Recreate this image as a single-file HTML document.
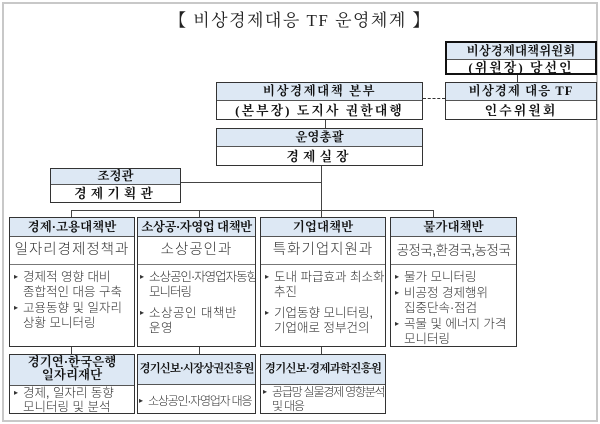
<!DOCTYPE html>
<html><head><meta charset="utf-8"><style>
body{margin:0;width:600px;height:424px;background:#fff;position:relative;overflow:hidden;font-family:"Liberation Serif","Noto Serif CJK KR",serif;}
.a{position:absolute;box-sizing:border-box;}
.box{position:absolute;box-sizing:border-box;border:1.5px solid #333;background:#fff;overflow:hidden;}
.h{background:#dde8f4;border-bottom:1px solid #555;text-align:center;font-weight:bold;font-size:12.5px;color:#111;white-space:nowrap;}
.s{text-align:center;font-size:13px;font-weight:bold;color:#111;letter-spacing:2px;white-space:nowrap;}
.sub{text-align:center;font-size:14.5px;color:#333;border-bottom:1px solid #777;font-family:"Liberation Sans","Noto Sans CJK KR",sans-serif;font-weight:300;white-space:nowrap;letter-spacing:1px;}
.l{font-family:"Liberation Sans","Noto Sans CJK KR",sans-serif;font-size:12.5px;color:#333;line-height:15px;padding:4px 0 0 4px;font-weight:300;white-space:nowrap;}
.l div{padding-left:9px;text-indent:-9px;}
.l div:before{content:"▸";font-size:8px;display:inline-block;width:9px;text-indent:0;vertical-align:2px;}
.ln{position:absolute;background:#444;}
</style></head><body>
<div class="a" style="left:2px;top:2px;width:596px;height:420px;border:2px solid #c8c8c8;"></div>
<div class="a" style="left:0;top:6px;width:600px;text-align:center;font-size:17px;color:#222;letter-spacing:1.5px;"><b>【</b> 비상경제대응 TF 운영체계 <b>】</b></div>

<div class="box" style="left:445px;top:41px;width:152px;height:34px;border:2px solid #111;">
<div class="h" style="height:16px;line-height:16px;">비상경제대책위원회</div>
<div class="s" style="line-height:16px;">(위원장) 당선인</div></div>
<div class="ln" style="left:517px;top:75px;width:1px;height:8px;"></div>
<div class="box" style="left:445px;top:82px;width:152px;height:38px;">
<div class="h" style="height:17px;line-height:17px;letter-spacing:1px;">비상경제 대응 TF</div>
<div class="s" style="line-height:19px;">인수위원회</div></div>

<div class="box" style="left:216px;top:82px;width:207px;height:38px;">
<div class="h" style="height:17px;line-height:17px;letter-spacing:1.5px;">비상경제대책 본부</div>
<div class="s" style="line-height:19px;">(본부장) 도지사 권한대행</div></div>
<div class="a" style="left:423px;top:98px;width:22px;border-top:1px dashed #333;"></div>
<div class="ln" style="left:325px;top:120px;width:1px;height:8px;"></div>
<div class="box" style="left:216px;top:128px;width:207px;height:38px;">
<div class="h" style="height:17px;line-height:17px;">운영총괄</div>
<div class="s" style="line-height:19px;letter-spacing:4px;">경제실장</div></div>
<div class="ln" style="left:321px;top:166px;width:1px;height:44px;"></div>
<div class="box" style="left:50px;top:168px;width:131px;height:35px;">
<div class="h" style="height:15px;line-height:15px;">조정관</div>
<div class="s" style="line-height:18px;letter-spacing:4px;">경제기획관</div></div>
<div class="ln" style="left:181px;top:182px;width:140px;height:1px;"></div>
<div class="ln" style="left:71px;top:210px;width:363px;height:1px;"></div>
<div class="ln" style="left:71px;top:210px;width:1px;height:8px;"></div>
<div class="ln" style="left:199px;top:210px;width:1px;height:8px;"></div>
<div class="ln" style="left:321px;top:210px;width:1px;height:8px;"></div>
<div class="ln" style="left:433px;top:210px;width:1px;height:8px;"></div>

<div class="box" style="left:9px;top:217px;width:126px;height:130px;">
<div class="h" style="height:18px;line-height:18px;">경제·고용대책반</div>
<div class="sub" style="height:27px;line-height:27px;">일자리경제정책과</div>
<div class="l"><div>경제적 영향 대비<br>종합적인 대응 구축</div><div>고용동향 및 일자리<br>상황 모니터링</div></div></div>
<div class="box" style="left:137px;top:217px;width:119px;height:130px;">
<div class="h" style="height:18px;line-height:18px;letter-spacing:-0.5px;">소상공·자영업 대책반</div>
<div class="sub" style="height:27px;line-height:27px;">소상공인과</div>
<div class="l" style="letter-spacing:-1px;padding-left:2px;"><div>소상공인·자영업자동향<br>모니터링</div><div style="margin-top:5px;letter-spacing:0.5px;">소상공인 대책반<br>운영</div></div></div>
<div class="box" style="left:260px;top:217px;width:126px;height:130px;">
<div class="h" style="height:18px;line-height:18px;">기업대책반</div>
<div class="sub" style="height:27px;line-height:27px;">특화기업지원과</div>
<div class="l"><div>도내 파급효과 최소화<br>추진</div><div style="margin-top:5px;">기업동향 모니터링,<br>기업애로 정부건의</div></div></div>
<div class="box" style="left:390px;top:217px;width:127px;height:130px;">
<div class="h" style="height:18px;line-height:18px;">물가대책반</div>
<div class="sub" style="height:27px;line-height:27px;font-size:13.5px;letter-spacing:-0.5px;">공정국,환경국,농정국</div>
<div class="l"><div>물가 모니터링</div><div>비공정 경제행위<br>집중단속·점검</div><div>곡물 및 에너지 가격<br>모니터링</div></div></div>

<div class="ln" style="left:71px;top:347px;width:1px;height:7px;"></div>
<div class="ln" style="left:199px;top:347px;width:1px;height:7px;"></div>
<div class="ln" style="left:321px;top:347px;width:1px;height:7px;"></div>

<div class="box" style="left:9px;top:354px;width:126px;height:60px;">
<div class="h" style="height:29px;line-height:13px;padding-top:1px;">경기연·한국은행<br>일자리재단</div>
<div class="l" style="padding-top:0;line-height:14px;"><div>경제, 일자리 동향<br>모니터링 및 분석</div></div></div>
<div class="box" style="left:137px;top:354px;width:119px;height:60px;">
<div class="h" style="height:29px;line-height:28px;font-size:11.5px;letter-spacing:-1px;">경기신보·시장상권진흥원</div>
<div class="l" style="padding-top:8px;padding-left:1px;letter-spacing:-1.2px;font-size:12px;"><div>소상공인·자영업자 대응</div></div></div>
<div class="box" style="left:260px;top:354px;width:126px;height:60px;">
<div class="h" style="height:29px;line-height:28px;font-size:11.5px;letter-spacing:-0.8px;">경기신보·경제과학진흥원</div>
<div class="l" style="padding-top:0;padding-left:2px;letter-spacing:-1.2px;font-size:12px;line-height:14px;"><div>공급망 실물경제 영향분석<br>및 대응</div></div></div>
</body></html>
